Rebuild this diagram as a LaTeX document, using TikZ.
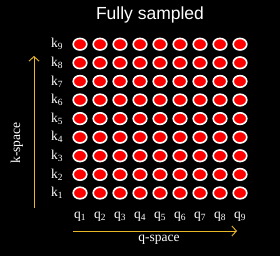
\documentclass[tikz,border=0pt]{standalone}
\usepackage{fontspec}
\setmainfont{Liberation Serif}
\newfontfamily\titlefont{Liberation Sans}
\usepackage{tikz}
\usetikzlibrary{arrows.meta, shapes.geometric, positioning}
\definecolor{axisyellow}{RGB}{232,184,40}
\tikzset{
	sample/.style={ellipse, draw=white, fill=red, line width=1.6pt, minimum width=13.6pt, minimum height=11.6pt, inner sep=0pt},
	lbl/.style={text=white, font=\fontsize{13.5}{13.5}\selectfont, inner sep=0pt},
	axis/.style={draw=axisyellow, line width=0.9pt, -{Straight Barb[length=4.5pt,width=10pt,line width=0.9pt]}}
}

\begin{document}
\begin{tikzpicture}[x=1pt, y=-1pt]
		% black background, fixes the size too
		\fill[black] (0,0) rectangle (280,256);
		
		% Title
		\node[text=white, font=\titlefont\fontsize{17.5}{17.5}\selectfont] (title) at (150, 15) {Fully sampled};
		
		% Grid of samples (column i, row j)
		\foreach \i in {1,...,9} {
			\foreach \j in {1,...,9} {
				\node[sample] (d-\i-\j) at ({60+20*\i}, {211.6-18.6*\j}) {};
			}
		}
		
		% Row labels
		\foreach \j in {1,...,9} {
			\node[lbl, left=9pt of d-1-\j] (k\j) {k\textsubscript{\j}};
		}
		% Column labels
		\foreach \i in {1,...,9} {
			\node[lbl, below=24pt of d-\i-1.center, anchor=center] (q\i) {q\textsubscript{\i}};
		}
		
		% Axes
		\coordinate (qstart) at (73, 231);
		\coordinate (qend) at (237, 231);
		\draw[axis] (qstart) -- (qend);
		\node[lbl] (qspace) at (159, 240) {q-space};
		
		\coordinate (kstart) at (34, 208);
		\coordinate (kend) at (34, 56);
		\draw[axis] (kstart) -- (kend);
		\node[lbl, rotate=90] (kspace) at (17, 143) {k-space};
		
	\end{tikzpicture}
\end{document}
